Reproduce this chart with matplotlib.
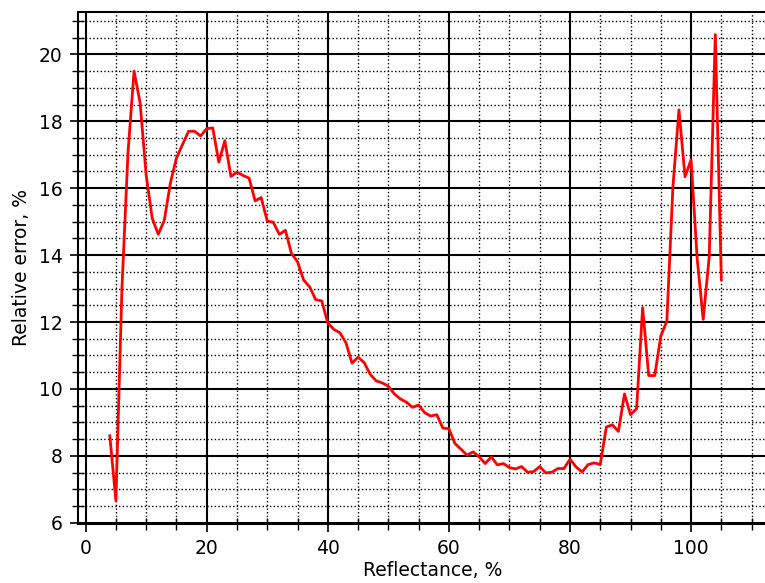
import matplotlib
matplotlib.use("Agg")
import matplotlib.pyplot as plt
from matplotlib.ticker import MultipleLocator

# reflectance steps, 1 % apart
reflectance = list(range(4, 106))

rel_error = [
    8.60, 6.66, 13.00, 17.05, 19.50, 18.55, 16.40, 15.10, 14.62, 15.04,
    16.15, 16.90, 17.30, 17.70, 17.70, 17.56, 17.78, 17.80, 16.78, 17.42,
    16.35, 16.48, 16.38, 16.30, 15.62, 15.72, 15.02, 14.98, 14.62, 14.74,
    14.05, 13.80, 13.26, 13.05, 12.67, 12.63, 11.97, 11.78, 11.68, 11.38,
    10.77, 10.95, 10.79, 10.44, 10.24, 10.18, 10.08, 9.85, 9.70, 9.60,
    9.45, 9.52, 9.29, 9.19, 9.23, 8.83, 8.81, 8.37, 8.20, 8.02,
    8.12, 7.97, 7.77, 7.97, 7.73, 7.77, 7.65, 7.61, 7.68, 7.51,
    7.53, 7.68, 7.49, 7.51, 7.62, 7.62, 7.90, 7.67, 7.52, 7.74,
    7.79, 7.74, 8.86, 8.93, 8.73, 9.85, 9.23, 9.41, 12.43, 10.40,
    10.40, 11.58, 12.03, 16.04, 18.34, 16.34, 16.85, 13.91, 12.08, 13.96,
    20.59, 13.27,
]

x_ticks = [0, 20, 40, 60, 80, 100]
y_ticks = [6, 8, 10, 12, 14, 16, 18, 20]

plt.rcParams['font.family'] = ['DejaVu Sans']
plt.rcParams['font.size'] = 13.5

fig = plt.figure(figsize=(7.65, 5.83), dpi=100)
# the original picture is cut off on the right, so the axes run past the edge
ax = fig.add_axes([0.102, 0.101, 0.928, 0.8787])

ax.plot(reflectance, rel_error, color='red', linewidth=2.0, zorder=3)

ax.set_xlim(-1.25, 116)
ax.set_ylim(5.96, 21.27)
ax.set_xticks(x_ticks)
ax.set_yticks(y_ticks)
ax.xaxis.set_minor_locator(MultipleLocator(5))
ax.yaxis.set_minor_locator(MultipleLocator(0.5))

ax.grid(which='major', color='black', linestyle='-', linewidth=1.5)
ax.grid(which='minor', color='black', linestyle=':', linewidth=1.0)

ax.tick_params(which='major', direction='inout', length=12, width=1.2, pad=5)
ax.tick_params(which='minor', direction='inout', length=9, width=1.0)
for side in ['left', 'bottom', 'top']:
    ax.spines[side].set_linewidth(1.5)

ax.set_xlabel("Reflectance, %", labelpad=2)
ax.set_ylabel("Relative error, %", labelpad=6)

fig.savefig("out.png", dpi=100)
